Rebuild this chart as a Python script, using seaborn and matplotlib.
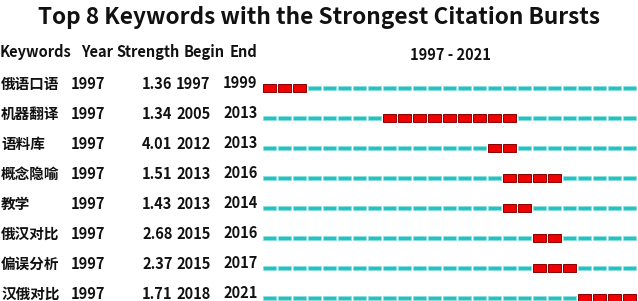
import matplotlib
matplotlib.use("Agg")
import matplotlib.pyplot as plt
import matplotlib.transforms as mtransforms
import seaborn as sns
import pandas as pd

# burst table values
keywords = ["俄语口语", "机器翻译", "语料库", "概念隐喻", "教学", "俄汉对比", "偏误分析", "汉俄对比"]
first_year = [1997, 1997, 1997, 1997, 1997, 1997, 1997, 1997]
strength = [1.36, 1.34, 4.01, 1.51, 1.43, 2.68, 2.37, 1.71]
begin = [1997, 2005, 2012, 2013, 2013, 2015, 2015, 2018]
end = [1999, 2013, 2013, 2016, 2014, 2016, 2017, 2021]
span_start, span_end = 1997, 2021
headers = ["Keywords", "Year", "Strength", "Begin", "End"]

sns.set_theme(style="white")
plt.rcParams['font.family'] = ['Noto Sans CJK SC', 'DejaVu Sans']

# one row per keyword and year, flagged if inside the burst
rows = []
for i, kw in enumerate(keywords):
    for yr in range(span_start, span_end + 1):
        rows.append({'row': i, 'year': yr, 'burst': begin[i] <= yr <= end[i]})
seg = pd.DataFrame(rows)

W, H = 638, 301
fig = plt.figure(figsize=(W / 100, H / 100), dpi=100)
ax = fig.add_axes([263 / W, 0, 375 / W, 1])
ax.set_xlim(span_start - 0.5, span_end + 0.5)
ax.set_ylim(7.1, -2.933)
ax.axis('off')

normal = seg[~seg['burst']]
burst = seg[seg['burst']]
ax.barh(normal['row'], 0.89, left=normal['year'] - 0.5, height=0.135,
        align='center', color='#22c3c3', edgecolor='#8fdede', linewidth=0.5)
ax.barh(burst['row'], 0.89, left=burst['year'] - 0.5, height=0.25,
        align='center', color='#f00000', edgecolor='#8a0000', linewidth=0.7)

# text columns: x in figure pixels, y in row units
tr = mtransforms.blended_transform_factory(fig.transFigure, ax.transData)
fx = lambda px: px / W
txt = dict(transform=tr, va='baseline', fontsize=10.5, fontweight='bold',
           color='#111111', clip_on=False)
for i in range(len(keywords)):
    y = i + 0.02
    ax.text(fx(1), y, keywords[i], ha='left', **txt)
    ax.text(fx(71), y, str(first_year[i]), ha='left', **txt)
    ax.text(fx(172.5), y, f"{strength[i]:.2f}", ha='right', **txt)
    ax.text(fx(176), y, str(begin[i]), ha='left', **txt)
    ax.text(fx(223), y - 0.035, str(end[i]), ha='left', **txt)

# header line
head_y = 1 - 57.3 / H
for label, px in zip(headers, [0, 81, 116, 184, 230]):
    fig.text(fx(px), head_y, label, ha='left', va='baseline',
             fontsize=10.5, fontweight='bold', color='#111111')
fig.text(fx(450), 1 - 59.5 / H, f"{span_start} - {span_end}", ha='center', va='baseline',
         fontsize=10.5, fontweight='bold', color='#111111')

fig.text(0.5, 1 - 24 / H, "Top 8 Keywords with the Strongest Citation Bursts",
         ha='center', va='baseline', fontsize=16.3, fontweight='bold', color='#111111')

fig.savefig('out.png', dpi=100)
